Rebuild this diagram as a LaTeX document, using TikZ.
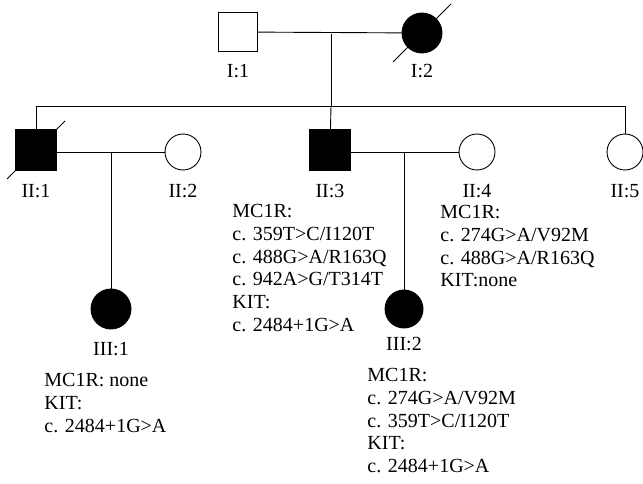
\documentclass[tikz,border=0pt]{standalone}
\usepackage{fontspec}
\setmainfont{Liberation Serif}
\usetikzlibrary{calc}

\begin{document}
\begin{tikzpicture}[x=1pt,y=-1pt,line width=.9pt,
 font=\fontsize{20}{22.7}\selectfont,
 male/.style={draw,rectangle,minimum size=39pt,inner sep=0pt},
 female/.style={draw,circle,minimum size=36pt,inner sep=0pt},
 sick/.style={fill=black},
 tag/.style={inner sep=0pt},
 gene/.style={align=left,anchor=north west,inner sep=0pt}]
\useasboundingbox (0,0) rectangle (643,484);
% generation I
\node[male] (i1) at (238,32) {};
\node[female,sick,minimum size=40pt] (i2) at (422,33) {};
\node[tag] (l11) at (238,71) {I:1};
\node[tag] (l12) at (422,71) {I:2};
\draw (i1) -- (i2);
\draw ($(i2)+(-29,29)$) -- ($(i2)+(29,-29)$);
% generation II
\node[male,sick,minimum size=41pt] (ii1) at (36,150) {};
\node[female] (ii2) at (183,152) {};
\node[male,sick,minimum size=41pt] (ii3) at (330,150) {};
\node[female] (ii4) at (477,152) {};
\node[female] (ii5) at (625,152) {};
\node[tag] (l21) at (36,191) {II:1};
\node[tag] (l22) at (183,191) {II:2};
\node[tag] (l23) at (330,191) {II:3};
\node[tag] (l24) at (477,191) {II:4};
\node[tag] (l25) at (625,191) {II:5};
\draw ($(ii1)+(-29,29)$) -- ($(ii1)+(29,-29)$);
\coordinate (s1) at (36,106); \coordinate (s5) at (625,106);
\coordinate (d1) at (331,34); \coordinate (d2) at (331,106);
\draw (d1) -- (d2);
\draw (ii1) -- (s1) -- (s5) -- (ii5);
\draw (ii3) -- (d2);
\draw (ii1.east |- ii2) -- (ii2);
\draw (ii3.east |- ii4) -- (ii4);
% generation III
\node[female,sick,minimum size=40pt] (iii1) at (111,309) {};
\node[female,sick,minimum size=38pt] (iii2) at (404,309) {};
\node[tag] (l31) at (111,349) {III:1};
\node[tag] (l32) at (404,344) {III:2};
\coordinate (m1) at (111,152); \coordinate (m2) at (404,152);
\draw (m1) -- (iii1); \draw (m2) -- (iii2);
% variants
\node[gene] (g23) at (232,204) {MC1R:\\c. 359T>C/I120T\\c. 488G>A/R163Q\\c. 942A>G/T314T\\KIT:\\c. 2484+1G>A};
\node[gene] (g24) at (440,205) {MC1R:\\c. 274G>A/V92M\\c. 488G>A/R163Q\\KIT:none};
\node[gene] (g31) at (44,373) {MC1R: none\\KIT:\\c. 2484+1G>A};
\node[gene] (g32) at (367,368) {MC1R:\\c. 274G>A/V92M\\c. 359T>C/I120T\\KIT:\\c. 2484+1G>A};
\end{tikzpicture}
\end{document}
